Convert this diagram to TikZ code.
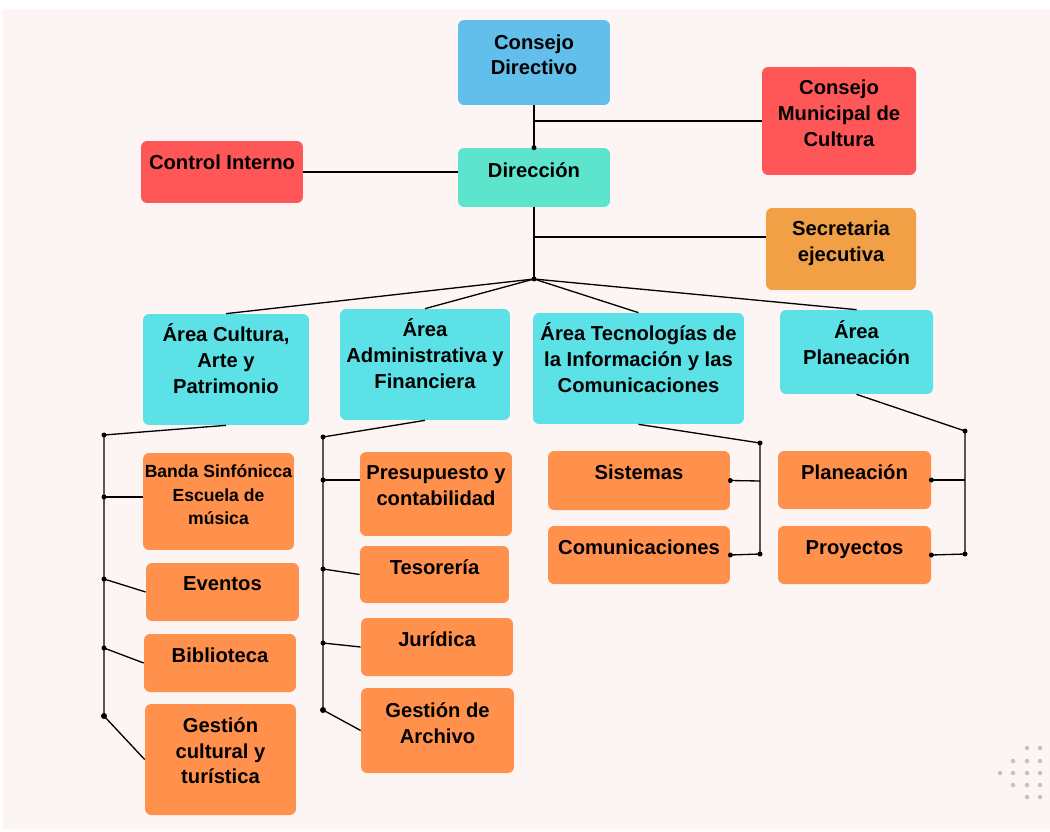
\documentclass[tikz,border=0pt]{standalone}
\usepackage{fontspec}
\setmainfont{Liberation Sans}
\usepackage{tikz}
\usetikzlibrary{positioning}
\definecolor{fondo}{HTML}{FDF5F3}
\definecolor{azul}{HTML}{62BEEB}
\definecolor{rojo}{HTML}{FF5757}
\definecolor{turquesa}{HTML}{5CE5CC}
\definecolor{ambar}{HTML}{F2A046}
\definecolor{cian}{HTML}{5CE1E6}
\definecolor{naranja}{HTML}{FF914D}
\definecolor{gris}{HTML}{C8C0C0}

\begin{document}
\begin{tikzpicture}[x=0.02cm,y=-0.02cm,
  caja/.style={rectangle, rounded corners=3.5pt, inner sep=0pt},
  texto/.style={font=\fontsize{11.5}{14.7}\selectfont\bfseries, align=center, inner sep=0pt, execute at begin node=\strut},
  linea/.style={line width=0.75pt, black}]
\useasboundingbox (0,0) rectangle (1050,831);
\fill[white] (0,0) rectangle (1050,831);
\fill[fondo] (3,9) rectangle (1050,829);

% nivel superior
\node[caja, fill=azul, minimum width=3.04cm, minimum height=1.70cm] (CD) at (534,62.5) {};
\node[texto, below=0.29cm of CD.north] (CD_t) {Consejo\\Directivo};
\node[caja, fill=rojo, minimum width=3.08cm, minimum height=2.16cm] (CM) at (839,121) {};
\node[texto, below=0.26cm of CM.north] (CM_t) {Consejo\\Municipal de\\Cultura};
\node[caja, fill=rojo, minimum width=3.24cm, minimum height=1.24cm] (CI) at (222,172) {};
\node[texto, below=0.2cm of CI.north] (CI_t) {Control Interno};
\node[caja, fill=turquesa, minimum width=3.04cm, minimum height=1.18cm] (DIR) at (534,177.5) {};
\node[texto, below=0.22cm of DIR.north] (DIR_t) {Dirección};
\node[caja, fill=ambar, minimum width=3.0cm, minimum height=1.64cm] (SEC) at (841,249) {};
\node[texto, below=0.26cm of SEC.north] (SEC_t) {Secretaria\\ejecutiva};

% areas
\node[caja, fill=cian, minimum width=3.32cm, minimum height=2.22cm] (ACU) at (226,369.5) {};
\node[texto, below=0.2cm of ACU.north] (ACU_t) {Área Cultura,\\Arte y\\Patrimonio};
\node[caja, fill=cian, minimum width=3.4cm, minimum height=2.22cm] (AAD) at (425,364.5) {};
\node[texto, below=0.2cm of AAD.north] (AAD_t) {Área\\Administrativa y\\Financiera};
\node[caja, fill=cian, minimum width=4.22cm, minimum height=2.22cm] (ATC) at (638.5,368.5) {};
\node[texto, below=0.2cm of ATC.north] (ATC_t) {Área Tecnologías de\\la Información y las\\Comunicaciones};
\node[caja, fill=cian, minimum width=3.06cm, minimum height=1.68cm] (APL) at (856.5,352) {};
\node[texto, below=0.22cm of APL.north] (APL_t) {Área\\Planeación};

% dependencias cultura
\node[caja, fill=naranja, minimum width=3.02cm, minimum height=1.94cm] (BAN) at (218.5,501.5) {};
\node[texto, font=\fontsize{10}{13.2}\selectfont\bfseries, below=0.24cm of BAN.north] (BAN_t) {Banda Sinfónicca\\Escuela de\\música};
\node[caja, fill=naranja, minimum width=3.06cm, minimum height=1.16cm] (EVE) at (222.5,592) {};
\node[texto, below=0.18cm of EVE.north] (EVE_t) {Eventos};
\node[caja, fill=naranja, minimum width=3.04cm, minimum height=1.16cm] (BIB) at (220,663) {};
\node[texto, below=0.2cm of BIB.north] (BIB_t) {Biblioteca};
\node[caja, fill=naranja, minimum width=3.02cm, minimum height=2.22cm] (GCT) at (220.5,759.5) {};
\node[texto, below=0.27cm of GCT.north] (GCT_t) {Gestión\\cultural y\\turística};

% dependencias administrativa
\node[caja, fill=naranja, minimum width=3.04cm, minimum height=1.68cm] (PRE) at (436,494) {};
\node[texto, below=0.28cm of PRE.north] (PRE_t) {Presupuesto y\\contabilidad};
\node[caja, fill=naranja, minimum width=2.98cm, minimum height=1.14cm] (TES) at (434.5,574.5) {};
\node[texto, below=0.2cm of TES.north] (TES_t) {Tesorería};
\node[caja, fill=naranja, minimum width=3.04cm, minimum height=1.16cm] (JUR) at (437,647) {};
\node[texto, below=0.2cm of JUR.north] (JUR_t) {Jurídica};
\node[caja, fill=naranja, minimum width=3.06cm, minimum height=1.70cm] (GAR) at (437.5,730.5) {};
\node[texto, below=0.3cm of GAR.north] (GAR_t) {Gestión de\\Archivo};

% dependencias tecnologias y planeacion
\node[caja, fill=naranja, minimum width=3.64cm, minimum height=1.18cm] (SIS) at (639,480.5) {};
\node[texto, below=0.2cm of SIS.north] (SIS_t) {Sistemas};
\node[caja, fill=naranja, minimum width=3.64cm, minimum height=1.16cm] (COM) at (639,555) {};
\node[texto, below=0.2cm of COM.north] (COM_t) {Comunicaciones};
\node[caja, fill=naranja, minimum width=3.06cm, minimum height=1.16cm] (PLA) at (854.5,480) {};
\node[texto, below=0.2cm of PLA.north] (PLA_t) {Planeación};
\node[caja, fill=naranja, minimum width=3.06cm, minimum height=1.16cm] (PRO) at (854.5,555) {};
\node[texto, below=0.2cm of PRO.north] (PRO_t) {Proyectos};

% conexiones superiores
\coordinate (J1) at (CD.south |- CM.west);
\coordinate (J2) at (534,237);
\coordinate (HUB) at (534,279);
\draw[linea] (CD.south) to (DIR.north);
\draw[linea] (J1) to (CM.west);
\draw[linea] (CI.east) to (CI.east -| DIR.west);
\draw[linea] (DIR.south) to (HUB);
\draw[linea] (J2) to (J2 -| SEC.west);
\draw[linea] (HUB) to (ACU.north);
\draw[linea] (HUB) to (AAD.north);
\draw[linea] (HUB) to (ATC.north);
\draw[linea] (HUB) to (APL.north);
\fill (DIR.north) circle (0.05cm);
\fill (HUB) circle (0.05cm);

% rama cultura
\coordinate (B1) at (104,435);
\coordinate (B1a) at (104,497);
\coordinate (B1b) at (104,579);
\coordinate (B1c) at (104,648);
\coordinate (B1d) at (104,716);
\draw[linea] (ACU.south) to (B1) to (B1d);
\draw[linea] (B1a) to (B1a -| BAN.west);
\draw[linea] (B1b) to (EVE.west);
\draw[linea] (B1c) to (BIB.west);
\draw[linea] (B1d) to (GCT.west);
\fill (B1) circle (0.05cm) (B1a) circle (0.05cm) (B1b) circle (0.05cm) (B1c) circle (0.05cm) (B1d) circle (0.06cm);

% rama administrativa
\coordinate (B2) at (323,437);
\coordinate (B2a) at (323,480);
\coordinate (B2b) at (323,569);
\coordinate (B2c) at (323,643);
\coordinate (B2d) at (323,710);
\draw[linea] (AAD.south) to (B2) to (B2d);
\draw[linea] (B2a) to (B2a -| PRE.west);
\draw[linea] (B2b) to (TES.west);
\draw[linea] (B2c) to (JUR.west);
\draw[linea] (B2d) to (GAR.west);
\fill (B2) circle (0.05cm) (B2a) circle (0.05cm) (B2b) circle (0.05cm) (B2c) circle (0.05cm) (B2d) circle (0.06cm);

% rama tecnologias
\coordinate (B3) at (760,443);
\coordinate (B3a) at (760,481);
\coordinate (B3b) at (760,554);
\draw[linea] (ATC.south) to (B3) to (B3b);
\draw[linea] (SIS.east) to (B3a);
\draw[linea] (COM.east) to (B3b);
\fill (B3) circle (0.05cm) (SIS.east) circle (0.05cm) (COM.east) circle (0.05cm) (B3b) circle (0.05cm);

% rama planeacion
\coordinate (B4) at (965,431);
\coordinate (B4a) at (965,480);
\coordinate (B4b) at (965,554);
\draw[linea] (APL.south) to (B4) to (B4b);
\draw[linea] (PLA.east) to (B4a);
\draw[linea] (PRO.east) to (B4b);
\fill (B4) circle (0.05cm) (PLA.east) circle (0.05cm) (PRO.east) circle (0.05cm) (B4b) circle (0.05cm);

% puntos decorativos
\fill[gris] (1027,748) circle (0.045cm) (1040,748) circle (0.045cm);
\fill[gris] (1013,761) circle (0.045cm) (1027,761) circle (0.045cm) (1040,761) circle (0.045cm);
\fill[gris] (1000,773) circle (0.045cm) (1013,773) circle (0.045cm) (1027,773) circle (0.045cm) (1040,773) circle (0.045cm);
\fill[gris] (1013,785) circle (0.045cm) (1027,785) circle (0.045cm) (1040,785) circle (0.045cm);
\fill[gris] (1027,797) circle (0.045cm) (1040,797) circle (0.045cm);
\end{tikzpicture}
\end{document}
